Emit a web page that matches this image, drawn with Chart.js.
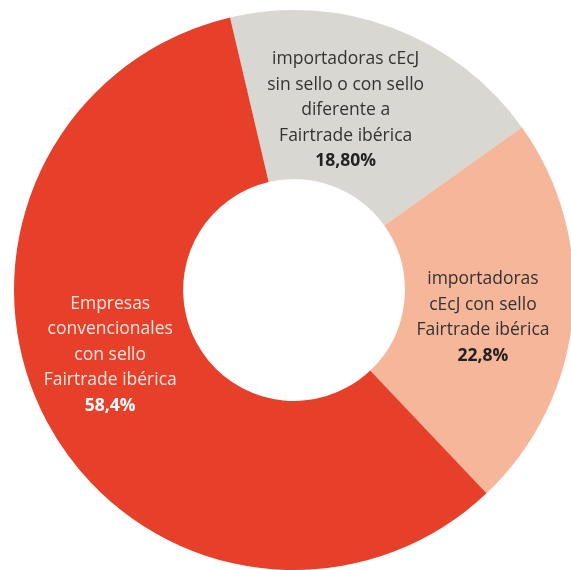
<!DOCTYPE html>
<html>
<head>
<meta charset="utf-8">
<script src="https://cdn.jsdelivr.net/npm/chart.js@4/dist/chart.umd.min.js"></script>
<style>
  html, body { margin: 0; padding: 0; background: #ffffff; width: 571px; height: 570px; overflow: hidden; }
  #wrap { position: absolute; left: 14px; top: 10px; width: 560px; height: 560px; }
</style>
</head>
<body>
<div id="wrap"><canvas id="c" width="560" height="560"></canvas></div>
<script>
// ---- data ----
const categories = [
  ["importadoras cEcJ", "sin sello o con sello", "diferente a", "Fairtrade ibérica"],
  ["importadoras", "cEcJ con sello", "Fairtrade ibérica"],
  ["Empresas", "convencionales", "con sello", "Fairtrade ibérica"]
];
const values = [18.8, 22.8, 58.4];
const valueLabels = ["18,80%", "22,8%", "58,4%"];

// ---- styles ----
const colors = ["#d9d7d2", "#f6b699", "#e6402b"];
const textColors = ["#333333", "#333333", "#fbe6df"];
const boldColors = ["#222222", "#222222", "#ffffff"];
// label placement relative to each slice: angle shift (deg) from mid, radius fraction
const labelPlace = [
  { dAng: -4.6, rFrac: 0.668 },
  { dAng: 2.8, rFrac: 0.682 },
  { dAng: 8.9, rFrac: 0.696 }
];
const FONT = '"Open Sans", "Liberation Sans", sans-serif';
const FS = 17.5;
const LH = 25.5;

const labelPlugin = {
  id: 'sliceLabels',
  afterDatasetsDraw(chart) {
    const ctx = chart.ctx;
    const meta = chart.getDatasetMeta(0);
    meta.data.forEach((arc, i) => {
      const p = arc.getProps(['x', 'y', 'startAngle', 'endAngle', 'outerRadius'], true);
      const a = (p.startAngle + p.endAngle) / 2 + labelPlace[i].dAng * Math.PI / 180;
      const r = p.outerRadius * labelPlace[i].rFrac;
      const cx = p.x + r * Math.cos(a);
      const cy = p.y + r * Math.sin(a);
      const lines = categories[i].concat([valueLabels[i]]);
      const n = lines.length;
      ctx.save();
      ctx.textAlign = 'center';
      ctx.textBaseline = 'middle';
      lines.forEach((t, k) => {
        const bold = k === n - 1;
        ctx.font = (bold ? 'bold ' : '') + FS + 'px ' + FONT;
        ctx.fillStyle = bold ? boldColors[i] : textColors[i];
        ctx.fillText(t, cx, cy + (k - (n - 1) / 2) * LH);
      });
      ctx.restore();
    });
  }
};

new Chart(document.getElementById('c'), {
  type: 'doughnut',
  data: {
    labels: categories.map(c => c.join(' ')),
    datasets: [{
      data: values,
      backgroundColor: colors,
      borderWidth: 0,
      hoverOffset: 0
    }]
  },
  options: {
    responsive: false,
    animation: false,
    rotation: -13.2,
    cutout: '39.6%',
    layout: { padding: 0 },
    events: [],
    plugins: { legend: { display: false }, tooltip: { enabled: false } }
  },
  plugins: [labelPlugin]
});
</script>
</body>
</html>
